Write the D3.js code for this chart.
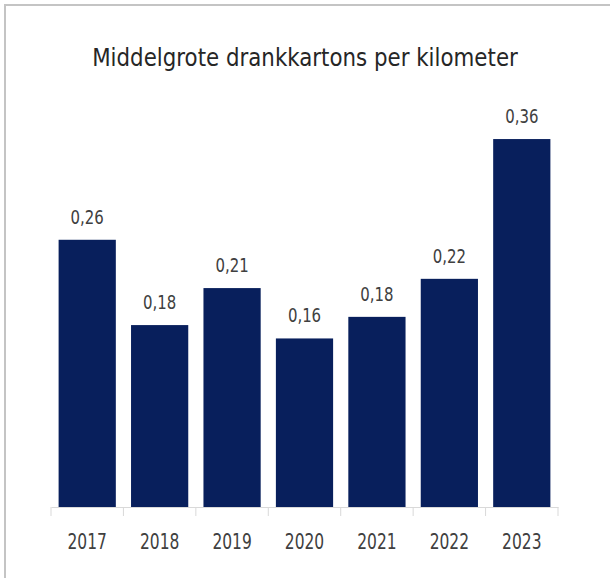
<!DOCTYPE html>
<html>
<head>
<meta charset="utf-8">
<script src="https://cdn.jsdelivr.net/npm/d3@7"></script>
<style>
  body { margin: 0; background: #fff; }
  svg { display: block; }
  text { font-family: "DejaVu Sans Condensed", "Liberation Sans Narrow", sans-serif; fill: #404040; }
</style>
</head>
<body>
<div id="chart"></div>
<script>
const title = "Middelgrote drankkartons per kilometer"
const years = ["2017", "2018", "2019", "2020", "2021", "2022", "2023"]
const values = [0.26, 0.177, 0.213, 0.164, 0.185, 0.222, 0.358]
const labels = ["0,26", "0,18", "0,21", "0,16", "0,18", "0,22", "0,36"]

const width = 610
const height = 578

const svg = d3.select("#chart")
  .append("svg")
  .attr("width", width)
  .attr("height", height)

// frame, only top and left edges show
svg.append("path")
  .attr("d", `M5,${height} V5 H${width}`)
  .attr("fill", "none")
  .attr("stroke", "#c4c4c4")
  .attr("stroke-width", 2)

const x = d3.scaleBand()
  .domain(years)
  .range([51, 558])
  .paddingInner(0.21)
  .paddingOuter(0.105)

const y = d3.scaleLinear()
  .domain([0, 0.36])
  .range([507, 137])

// narrow text: squeeze horizontally
const squeeze = (px, py, k) => `translate(${px},${py}) scale(${k},1)`

svg.append("text")
  .attr("transform", squeeze(305, 66, 0.95))
  .attr("text-anchor", "middle")
  .style("font-size", "25px")
  .style("fill", "#262626")
  .text(title)

svg.append("g")
  .selectAll("rect")
  .data(values)
  .join("rect")
  .attr("x", (d, i) => x(years[i]))
  .attr("y", d => y(d))
  .attr("width", x.bandwidth())
  .attr("height", d => y(0) - y(d))
  .attr("fill", "#081f5c")

svg.append("g")
  .selectAll("text")
  .data(values)
  .join("text")
  .attr("transform", (d, i) => squeeze(x(years[i]) + x.bandwidth() / 2, y(d) - 16, 0.83))
  .attr("text-anchor", "middle")
  .style("font-size", "20px")
  .text((d, i) => labels[i])

// x axis, separators between categories
const gx = svg.append("g")
  .attr("transform", `translate(0,${y(0)})`)
  .call(d3.axisBottom(x).tickSize(0).tickFormat(""))

gx.select(".domain").attr("stroke", "#d9d9d9")

gx.selectAll(".yr")
  .data(years)
  .join("text")
  .attr("class", "yr")
  .attr("transform", d => squeeze(x(d) + x.bandwidth() / 2, 42, 0.82))
  .attr("text-anchor", "middle")
  .style("font-size", "21px")
  .text(d => d)

gx.selectAll(".sep")
  .data(d3.range(years.length + 1))
  .join("line")
  .attr("class", "sep")
  .attr("x1", i => 51 + i * x.step())
  .attr("x2", i => 51 + i * x.step())
  .attr("y1", 0)
  .attr("y2", 9)
  .attr("stroke", "#d9d9d9")
</script>
</body>
</html>
